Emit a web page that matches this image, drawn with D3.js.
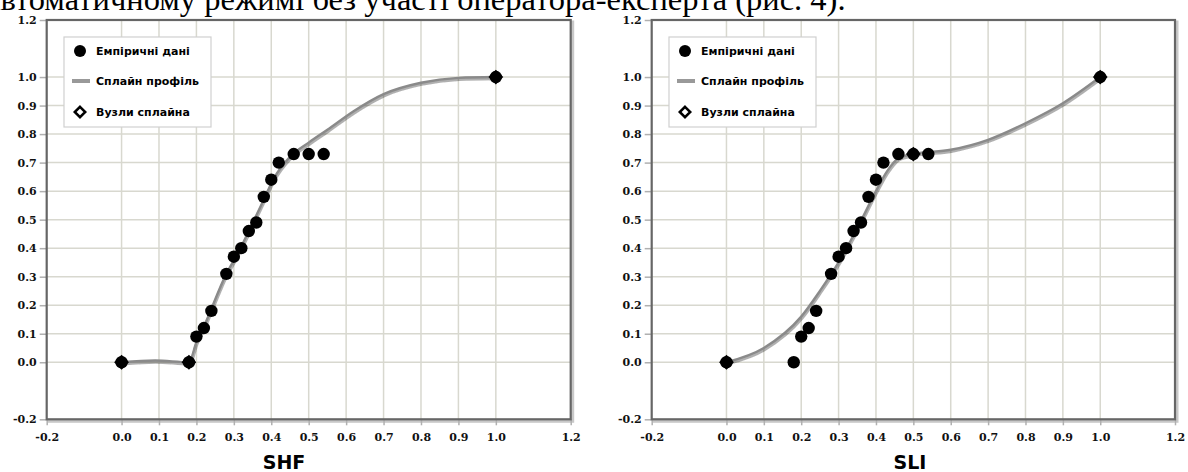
<!DOCTYPE html>
<html>
<head>
<meta charset="utf-8">
<script src="https://cdn.jsdelivr.net/npm/d3@7"></script>
<style>
  body { margin: 0; background: #fff; overflow: hidden; }
  svg { display: block; }
</style>
</head>
<body>
<script>
// values
const xTicks = [-0.2, 0.0, 0.1, 0.2, 0.3, 0.4, 0.5, 0.6, 0.7, 0.8, 0.9, 1.0, 1.2]
const yTicks = [-0.2, 0.0, 0.1, 0.2, 0.3, 0.4, 0.5, 0.6, 0.7, 0.8, 0.9, 1.0, 1.2]

const empX = [0, 0.18, 0.20, 0.22, 0.24, 0.28, 0.30, 0.32, 0.34, 0.36, 0.38, 0.40, 0.42, 0.46, 0.50, 0.54, 1.0]
const empY = [0, 0.00, 0.09, 0.12, 0.18, 0.31, 0.37, 0.40, 0.46, 0.49, 0.58, 0.64, 0.70, 0.73, 0.73, 0.73, 1.0]

const shfCurveX = [0, 0.09, 0.18, 0.20, 0.22, 0.28, 0.31, 0.34, 0.38, 0.405, 0.45, 0.50, 0.55, 0.62, 0.70, 0.80, 0.90, 1.0]
const shfCurveY = [0, 0.006, 0, 0.07, 0.125, 0.31, 0.38, 0.46, 0.57, 0.64, 0.72, 0.77, 0.815, 0.88, 0.94, 0.98, 0.997, 1.0]
const shfNodeX = [0, 0.18, 1.0]
const shfNodeY = [0, 0, 1.0]

const sliCurveX = [0, 0.10, 0.20, 0.25, 0.30, 0.35, 0.40, 0.43, 0.46, 0.50, 0.60, 0.70, 0.80, 0.90, 1.0]
const sliCurveY = [0, 0.05, 0.16, 0.25, 0.35, 0.47, 0.60, 0.67, 0.715, 0.73, 0.745, 0.78, 0.838, 0.908, 1.0]
const sliNodeX = [0, 0.5, 1.0]
const sliNodeY = [0, 0.73, 1.0]

const legendLabels = ['Емпіричні дані', 'Сплайн профіль', 'Вузли сплайна']
const headText = 'автоматичному режимі без участі оператора-експерта (рис. 4).'

const zip = (xs, ys) => xs.map((x, i) => ({x: x, y: ys[i]}))

var svg = d3.select('body').append('svg').attr('width', 1188).attr('height', 472)

// top line of body text, cut by the picture edge
svg.append('text')
  .attr('x', -14).attr('y', 9.5)
  .style('font-family', '"Liberation Serif", serif')
  .style('font-size', '32.5px')
  .attr('fill', '#000')
  .text(headText)

var defs = svg.append('defs')
defs.append('filter').attr('id', 'soft').append('feGaussianBlur').attr('stdDeviation', 0.6)

const panels = [
  {x0: 46.7, x1: 570.7, title: 'SHF', titleX: 284, curve: zip(shfCurveX, shfCurveY), nodes: zip(shfNodeX, shfNodeY)},
  {x0: 651.7, x1: 1175, title: 'SLI', titleX: 910, curve: zip(sliCurveX, sliCurveY), nodes: zip(sliNodeX, sliNodeY)}
]
const plotTop = 20, plotBottom = 419.3

panels.forEach(function(p) {
  var x = d3.scaleLinear().domain([-0.2, 1.2]).range([p.x0, p.x1])
  var y = d3.scaleLinear().domain([-0.2, 1.2]).range([plotBottom, plotTop])
  var g = svg.append('g')

  // frame shadow
  g.append('rect')
    .attr('x', p.x0 + 2).attr('y', plotTop + 2)
    .attr('width', p.x1 - p.x0).attr('height', plotBottom - plotTop)
    .attr('fill', 'none').attr('stroke', '#c8c8c8').attr('stroke-width', 3)
    .attr('filter', 'url(#soft)')
  g.append('rect')
    .attr('x', p.x0).attr('y', plotTop)
    .attr('width', p.x1 - p.x0).attr('height', plotBottom - plotTop)
    .attr('fill', '#fff')

  // grid
  g.selectAll('.vg').data(xTicks.filter(d => d > -0.2 && d < 1.2)).enter().append('line')
    .attr('x1', d => x(d)).attr('x2', d => x(d))
    .attr('y1', plotTop).attr('y2', plotBottom)
    .attr('stroke', '#d8d8cf').attr('stroke-width', 1.5)
  g.selectAll('.hg').data(yTicks.filter(d => d > -0.2 && d < 1.2)).enter().append('line')
    .attr('x1', p.x0).attr('x2', p.x1)
    .attr('y1', d => y(d)).attr('y2', d => y(d))
    .attr('stroke', '#d8d8cf').attr('stroke-width', 1.5)

  // axes
  var xAxis = d3.axisBottom(x).tickValues(xTicks).tickSize(6).tickPadding(8)
  var yAxis = d3.axisLeft(y).tickValues(yTicks).tickSize(7).tickPadding(3)
  var xa = g.append('g').attr('transform', 'translate(0,' + plotBottom + ')').call(xAxis)
  var ya = g.append('g').attr('transform', 'translate(' + p.x0 + ',0)').call(yAxis)
  ;[xa, ya].forEach(function(a) {
    a.select('.domain').remove()
    a.selectAll('line').attr('stroke', '#b0b0b0').attr('stroke-width', 1.5)
    a.selectAll('text')
      .style('font-family', '"DejaVu Serif", serif')
      .style('font-weight', 'bold')
      .style('font-size', '11px')
      .attr('fill', '#111')
      .text(d => d.toFixed(1))
  })

  // frame
  g.append('rect')
    .attr('x', p.x0).attr('y', plotTop)
    .attr('width', p.x1 - p.x0).attr('height', plotBottom - plotTop)
    .attr('fill', 'none').attr('stroke', '#666').attr('stroke-width', 2.2)

  // spline
  var line = d3.line().x(d => x(d.x)).y(d => y(d.y)).curve(d3.curveMonotoneX)
  g.append('path').attr('d', line(p.curve))
    .attr('fill', 'none').attr('stroke', '#222').attr('stroke-opacity', 0.35).attr('stroke-width', 3.5)
    .attr('transform', 'translate(0.6,1.4)').attr('filter', 'url(#soft)')
  g.append('path').attr('d', line(p.curve))
    .attr('fill', 'none').attr('stroke', '#8a8a8a').attr('stroke-width', 2.4)

  // empirical points
  g.selectAll('.pt').data(zip(empX, empY)).enter().append('circle')
    .attr('cx', d => x(d.x)).attr('cy', d => y(d.y)).attr('r', 6.2)
    .attr('fill', '#000').attr('filter', 'url(#soft)')

  // spline nodes
  g.selectAll('.nd').data(p.nodes).enter().append('path')
    .attr('d', d3.symbol().type(d3.symbolDiamond2).size(140))
    .attr('transform', d => 'translate(' + x(d.x) + ',' + y(d.y) + ')')
    .attr('fill', '#000')

  // legend
  var lx = p.x0 + 17.3, ly = plotTop + 17
  var lg = g.append('g').attr('transform', 'translate(' + lx + ',' + ly + ')')
  lg.append('rect').attr('width', 147).attr('height', 90)
    .attr('fill', '#fff').attr('stroke', '#d0d0d0').attr('stroke-width', 1.2)
  var rows = [14, 44, 75]
  lg.append('circle').attr('cx', 16).attr('cy', rows[0]).attr('r', 6).attr('fill', '#000')
  lg.append('line').attr('x1', 8).attr('x2', 26).attr('y1', rows[1]).attr('y2', rows[1])
    .attr('stroke', '#999').attr('stroke-width', 4)
  lg.append('path')
    .attr('d', d3.symbol().type(d3.symbolDiamond2).size(70))
    .attr('transform', 'translate(16,' + rows[2] + ')')
    .attr('fill', '#fff').attr('stroke', '#000').attr('stroke-width', 2.5)
  lg.selectAll('.lt').data(legendLabels).enter().append('text')
    .attr('x', 32).attr('y', (d, i) => rows[i]).attr('dy', '0.36em')
    .style('font-family', '"DejaVu Sans", sans-serif')
    .style('font-weight', 'bold').style('font-size', '11px')
    .attr('fill', '#000')
    .text(d => d)

  // axis title
  g.append('text')
    .attr('x', p.titleX).attr('y', 468.5)
    .attr('text-anchor', 'middle')
    .style('font-family', '"DejaVu Sans", sans-serif')
    .style('font-weight', 'bold').style('font-size', '19px')
    .attr('fill', '#000')
    .text(p.title)
})
</script>
</body>
</html>
